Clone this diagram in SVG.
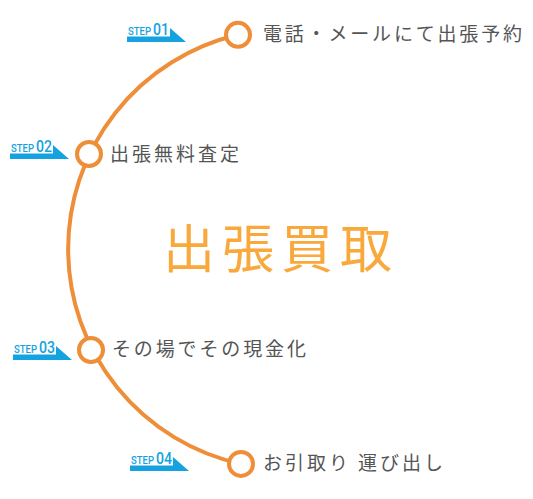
<svg xmlns="http://www.w3.org/2000/svg" xmlns:xlink="http://www.w3.org/1999/xlink" width="533" height="499" viewBox="0 0 533 499">
<style>
.arc{fill:none;stroke:#ef8e38;stroke-width:4}
.dot{fill:#fff;stroke:#ef8e38;stroke-width:4}
.flag{fill:#14a3e0}
.st{font-family:"Roboto","Liberation Sans",sans-serif;fill:#14a3e0;font-weight:500}
.s1{font-size:10px}
.s2{font-size:17px}
.lbl{font-family:"Noto Sans CJK JP",sans-serif;font-size:19px;fill:#555}
.title{font-family:"Noto Sans CJK JP",sans-serif;font-size:52px;fill:#f9a83c;letter-spacing:7px}
</style>
<defs>
<path id="flag" d="M0,1.5 H43 V-7 L59,7 H0 Z"/>
</defs>
<rect width="533" height="499" fill="#fff"/>
<g id="connectors">
<path class="arc" d="M238,34.8 A220,220 0 0,0 241,463.9"/>
</g>
<g id="step1">
<use xlink:href="#flag" class="flag" x="127" y="35"/>
<text class="st s1" x="128" y="35" textLength="23" lengthAdjust="spacingAndGlyphs">STEP</text>
<text class="st s2" x="153" y="35" textLength="16" lengthAdjust="spacingAndGlyphs">01</text>
<circle class="dot" cx="238" cy="34.8" r="12"/>
<text class="lbl" x="263" y="41" textLength="259" lengthAdjust="spacing">電話・メールにて出張予約</text>
</g>
<g id="step2">
<use xlink:href="#flag" class="flag" x="10" y="152"/>
<text class="st s1" x="11" y="152" textLength="23" lengthAdjust="spacingAndGlyphs">STEP</text>
<text class="st s2" x="36" y="152" textLength="16" lengthAdjust="spacingAndGlyphs">02</text>
<circle class="dot" cx="89" cy="154" r="12"/>
<text class="lbl" x="110" y="161" textLength="129" lengthAdjust="spacing">出張無料査定</text>
</g>
<g id="step3">
<use xlink:href="#flag" class="flag" x="13" y="353"/>
<text class="st s1" x="14" y="353" textLength="23" lengthAdjust="spacingAndGlyphs">STEP</text>
<text class="st s2" x="39" y="353" textLength="16" lengthAdjust="spacingAndGlyphs">03</text>
<circle class="dot" cx="91" cy="350" r="12"/>
<text class="lbl" x="112" y="356" textLength="194" lengthAdjust="spacing">その場でその現金化</text>
</g>
<g id="step4">
<use xlink:href="#flag" class="flag" x="130" y="464"/>
<text class="st s1" x="131" y="464" textLength="23" lengthAdjust="spacingAndGlyphs">STEP</text>
<text class="st s2" x="156" y="464" textLength="16" lengthAdjust="spacingAndGlyphs">04</text>
<circle class="dot" cx="241" cy="463.9" r="12"/>
<text class="lbl" x="263" y="470" textLength="180" lengthAdjust="spacing">お引取り 運び出し</text>
</g>
<g id="title">
<text class="title" x="163" y="268">出張買取</text>
</g>
</svg>
